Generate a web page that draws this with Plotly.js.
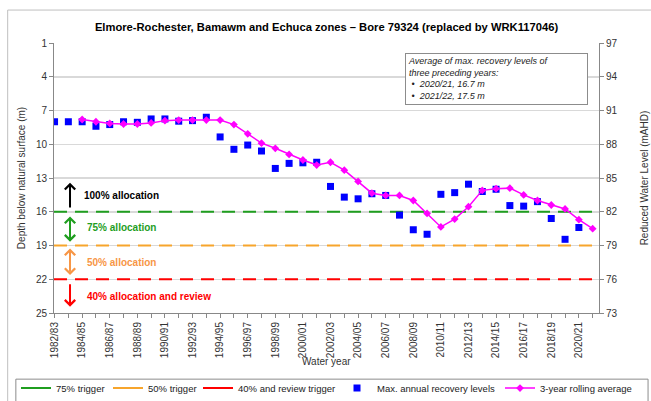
<!DOCTYPE html>
<html>
<head>
<meta charset="utf-8">
<script src="https://cdn.plot.ly/plotly-3.0.1.min.js"></script>
<style>html,body{margin:0;padding:0;background:#fff}#chart{width:651px;height:401px}</style>
</head>
<body>
<div id="chart"></div>
<script>
// ---- data (depth below natural surface, m) ----
const waterYears = ["1982/83","1983/84","1984/85","1985/86","1986/87","1987/88","1988/89","1989/90","1990/91","1991/92",
  "1992/93","1993/94","1994/95","1995/96","1996/97","1997/98","1998/99","1999/00","2000/01","2001/02",
  "2002/03","2003/04","2004/05","2005/06","2006/07","2007/08","2008/09","2009/10","2010/11","2011/12",
  "2012/13","2013/14","2014/15","2015/16","2016/17","2017/18","2018/19","2019/20","2020/21","2021/22"];
const maxRecovery = [8.0,8.0,8.0,8.4,8.25,8.0,8.05,7.75,7.75,7.95,
  7.9,7.6,9.35,10.45,10.07,10.6,12.15,11.7,11.65,11.6,
  13.75,14.7,14.85,14.4,14.55,16.3,17.6,18.0,14.45,14.3,
  13.55,14.2,14.0,15.45,15.5,15.1,16.6,18.45,17.4,null];
const rollingAvg = [null,null,7.8,8.0,8.15,8.2,8.2,8.1,7.9,7.85,
  7.85,7.85,7.85,8.25,9.07,9.9,10.36,10.9,11.4,11.85,
  11.6,12.3,13.3,14.35,14.55,14.55,15.0,16.15,17.35,16.65,
  15.55,14.1,13.95,13.9,14.5,15.0,15.4,15.75,16.7,17.5];
const triggerNames = ["75% trigger","50% trigger","40% and review trigger"];
const triggerDepths = [16, 19, 22];
const allocLabels = ["100% allocation","75% allocation","50% allocation","40% allocation and review"];
const depthTicks = [1,4,7,10,13,16,19,22,25];
const rlTicks = [73,76,79,82,85,88,91,94,97];
const noteText = ["Average of max. recovery levels of","three preceding years:","2020/21, 16.7 m","2021/22, 17.5 m"];

// ---- styling ----
const FONT = "Liberation Sans, Arial, sans-serif";
const trigColors = ["#1f9e1f","#f7a52c","#ff0000"];
const allocColors = ["#000000","#1f9e1f","#f79646","#ff0000"];
const X0 = -0.04, X1 = 39.46;
const idx = waterYears.map((_, i) => i);
const legendIds = ["legend","legend2","legend3","legend4","legend5"];
const legendLeftPx = [16, 108, 198, 337, 500];

const traces = [];
// dashed trigger lines (drawn across full axis)
triggerDepths.forEach((d, k) => {
  traces.push({x:[X0, X1], y:[d, d], type:"scatter", mode:"lines", showlegend:false, hoverinfo:"skip",
    line:{color:trigColors[k], width:2, dash:"13px,8px"}});
});
// legend entries for triggers (solid line swatches)
triggerNames.forEach((n, k) => {
  traces.push({x:[null], y:[null], type:"scatter", mode:"lines", name:n, legend:legendIds[k],
    line:{color:trigColors[k], width:2}});
});
traces.push({x:idx, y:maxRecovery, type:"scatter", mode:"markers", name:"Max. annual recovery levels",
  legend:legendIds[3], marker:{symbol:"square", size:7, color:"#0000ff"}});
traces.push({x:idx, y:rollingAvg, type:"scatter", mode:"lines+markers", name:"3-year rolling average",
  legend:legendIds[4], line:{color:"#ff00ff", width:1.5}, marker:{symbol:"diamond", size:6, color:"#ff00ff"}});
// right-hand axis anchor (no marks)
traces.push({x:[null], y:[null], yaxis:"y2", type:"scatter", mode:"markers", showlegend:false, hoverinfo:"skip"});

// allocation arrows & labels
const ax = 1.12;
const arrows = [
  {head:13.42, tail:15.76, both:false},
  {head:18.66, tail:16.29, both:true},
  {head:21.62, tail:19.13, both:true},
  {head:24.44, tail:22.30, both:false}
];
const labelY = [14.57, 17.44, 20.47, 23.49];
const labelX = [1.99, 2.2, 2.2, 2.2];
const annotations = [];
arrows.forEach((a, k) => {
  annotations.push({x:ax, y:a.head, ax:ax, ay:a.tail, xref:"x", yref:"y", axref:"x", ayref:"y",
    text:"", showarrow:true, arrowhead:4, arrowsize:1, arrowwidth:2, arrowcolor:allocColors[k],
    arrowside: a.both ? "end+start" : "end", standoff:0, startstandoff:0});
  annotations.push({x:labelX[k], y:labelY[k], xref:"x", yref:"y", xanchor:"left", yanchor:"middle",
    text:"<b>"+allocLabels[k]+"</b>", showarrow:false, font:{family:FONT, size:10, color:allocColors[k]}});
});
annotations.push({xref:"paper", yref:"paper", x:0.644, y:0.963, xanchor:"left", yanchor:"top",
  align:"left", valign:"top", showarrow:false, width:177, height:46, borderpad:2,
  bordercolor:"#8c8c8c", borderwidth:1, bgcolor:"#ffffff",
  text:"<i>"+noteText[0]+"<br>"+noteText[1]+"<br>\u00a0•\u00a0\u00a0"+noteText[2]+"<br>\u00a0•\u00a0\u00a0"+noteText[3]+"</i>",
  font:{family:FONT, size:9, color:"#222"}});
annotations.push({xref:"paper", yref:"paper", x:0.5, y:-0.178, xanchor:"center", yanchor:"middle",
  text:"Water year", showarrow:false, font:{family:FONT, size:10, color:"#333"}});

const tickText = waterYears.map((w, i) => i % 2 === 0 ? w : "");

const layout = {
  width:651, height:401,
  margin:{l:54, r:52, t:43, b:88, autoexpand:false},
  paper_bgcolor:"#ffffff", plot_bgcolor:"#ffffff",
  font:{family:FONT, size:10, color:"#333"},
  title:{text:"<b>Elmore-Rochester, Bamawm and Echuca zones – Bore 79324 (replaced by WRK117046)</b>",
    font:{family:FONT, size:11.2, color:"#000"}, x:0.5, xref:"paper", xanchor:"center", y:0.933, yanchor:"middle"},
  xaxis:{range:[X0, X1], tickmode:"array", tickvals:idx, ticktext:tickText, tickangle:-90,
    ticks:"outside", ticklen:4, tickcolor:"#888", showline:true, linecolor:"#888", linewidth:1,
    showgrid:false, zeroline:false, tickfont:{family:FONT, size:10, color:"#333"}},
  yaxis:{range:[25, 1], tickmode:"array", tickvals:depthTicks, ticks:"outside", ticklen:4, tickcolor:"#888",
    showline:true, linecolor:"#888", linewidth:1, showgrid:true, gridcolor:"#d9d9d9", gridwidth:1.5,
    zeroline:false, tickfont:{family:FONT, size:10, color:"#333"},
    title:{text:"Depth below natural surface (m)", font:{family:FONT, size:10, color:"#333"}, standoff:8}},
  yaxis2:{range:[73, 97], overlaying:"y", side:"right", anchor:"x", tickmode:"array", tickvals:rlTicks,
    ticks:"outside", ticklen:4, tickcolor:"#888", showline:true, linecolor:"#888", linewidth:1,
    showgrid:false, zeroline:false, tickfont:{family:FONT, size:10, color:"#333"},
    title:{text:"Reduced Water Level (mAHD)", font:{family:FONT, size:10, color:"#333"}, standoff:24}},
  showlegend:true,
  annotations:annotations,
  shapes:[
    {type:"rect", xref:"paper", yref:"paper", x0:-0.085, x1:1.1, y0:-0.4, y1:1.122,
      line:{color:"#bfbfbf", width:1}, fillcolor:"rgba(0,0,0,0)", layer:"below"},
    {type:"rect", xref:"paper", yref:"paper", x0:-0.07, x1:1.09, y0:-0.39, y1:-0.245,
      line:{color:"#8c8c8c", width:1}, fillcolor:"rgba(0,0,0,0)", layer:"below"}
  ]
};
legendIds.forEach((id, k) => {
  layout[id] = {orientation:"h", x:(legendLeftPx[k] - 54) / 545, xanchor:"left", y:-0.278, yanchor:"middle",
    font:{family:FONT, size:9.5, color:"#222"}, bgcolor:"rgba(0,0,0,0)", borderwidth:0, itemwidth:30};
});

Plotly.newPlot("chart", traces, layout, {staticPlot:true, displayModeBar:false});
</script>
</body>
</html>
